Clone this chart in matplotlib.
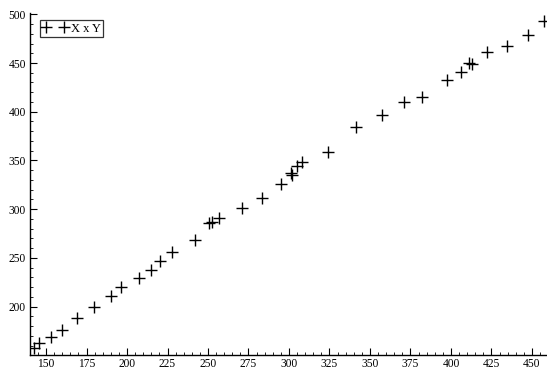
import matplotlib
matplotlib.use("Agg")
import matplotlib.pyplot as plt
from matplotlib.ticker import MultipleLocator

x_values = [142.8, 145.9, 152.9, 159.9, 169.0, 179.8, 190.1, 196.1, 207.2, 214.8,
            220.1, 228.0, 242.0, 250.8, 252.7, 257.0, 271.0, 283.1, 295.1, 301.1,
            302.0, 305.1, 308.2, 324.1, 341.2, 357.4, 371.0, 382.3, 397.3, 406.2,
            411.3, 413.1, 422.2, 434.4, 447.3, 457.4]
y_values = [157.3, 162.4, 169.2, 176.1, 188.1, 200.0, 211.0, 219.9, 229.8, 237.4,
            246.9, 256.5, 268.2, 285.4, 287.0, 290.6, 301.0, 311.3, 326.0, 337.0,
            334.7, 344.8, 348.6, 358.3, 384.5, 396.5, 409.9, 415.0, 432.4, 440.7,
            449.9, 448.9, 461.5, 467.4, 479.0, 493.3]
series_label = "X x Y"
x_ticks = [150, 175, 200, 225, 250, 275, 300, 325, 350, 375, 400, 425, 450]
y_ticks = [200, 250, 300, 350, 400, 450, 500]

plt.rcParams['font.family'] = ['Liberation Serif', 'DejaVu Serif']

W, H = 547, 370
fig = plt.figure(figsize=(W / 100, H / 100), dpi=100)
left, right, top, bottom = 29.5, 547, 13.3, 355
ax = fig.add_axes([left / W, 1 - bottom / H, (right - left) / W, (bottom - top) / H])

ax.plot(x_values, y_values, linestyle='none', marker='+', markersize=8.5,
        markeredgewidth=1.0, color='black', label=series_label)

ax.set_xlim(139.8, 459.3)
ax.set_ylim(150.4, 501.0)
ax.set_xticks(x_ticks)
ax.set_yticks(y_ticks)
ax.xaxis.set_minor_locator(MultipleLocator(5))
ax.yaxis.set_minor_locator(MultipleLocator(10))

for s in ['top', 'right']:
    ax.spines[s].set_visible(False)
for s in ['left', 'bottom']:
    ax.spines[s].set_linewidth(1.0)

ax.tick_params(which='both', direction='in', labelsize=8.3, pad=2.5)
ax.tick_params(which='major', length=5, width=0.8)
ax.tick_params(which='minor', length=2.5, width=0.6)

leg = ax.legend(loc='upper left', numpoints=2, fontsize=9, frameon=True,
                fancybox=False, borderpad=0.2, handlelength=2.0,
                handletextpad=0.3, borderaxespad=0.0, bbox_to_anchor=(0.02, 0.98))
leg.get_frame().set_edgecolor('black')
leg.get_frame().set_linewidth(0.9)

fig.savefig("out.png", dpi=100)
